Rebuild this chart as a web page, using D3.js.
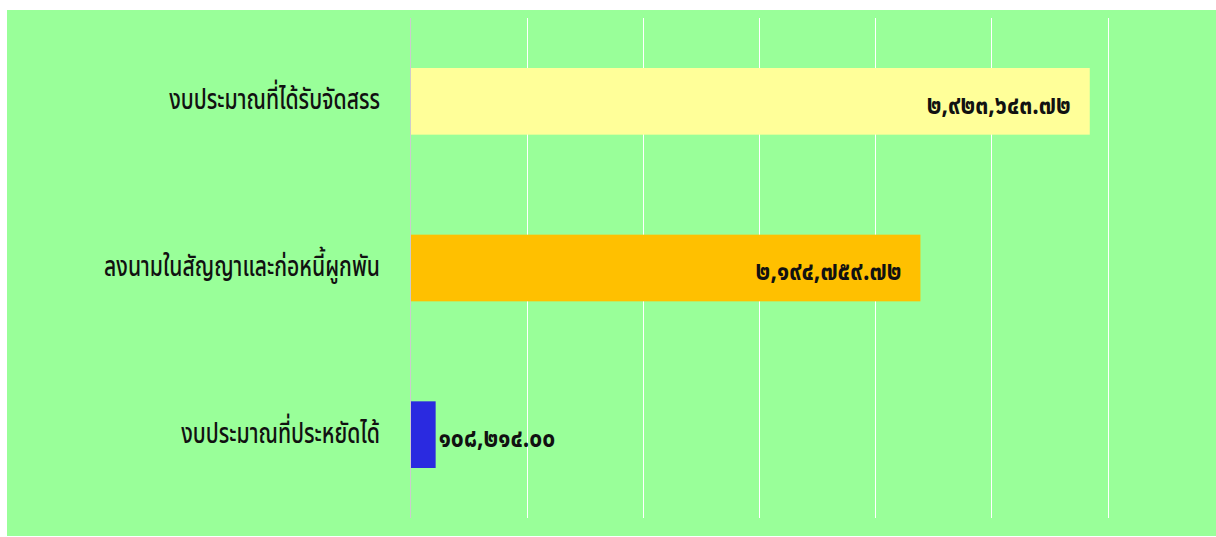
<!DOCTYPE html>
<html><head><meta charset="utf-8">
<script src="https://cdn.jsdelivr.net/npm/d3@7"></script>
<style>
html,body{margin:0;padding:0;background:#fff;}
svg{display:block;}
</style></head>
<body>
<svg id="chart" width="1216" height="537"></svg>
<script>
const categories = ["งบประมาณที่ได้รับจัดสรร", "ลงนามในสัญญาและก่อหนี้ผูกพัน", "งบประมาณที่ประหยัดได้"];
const values = [2923643.72, 2194759.72, 108214.00];
const valueLabels = ["๒,๙๒๓,๖๔๓.๗๒", "๒,๑๙๔,๗๕๙.๗๒", "๑๐๘,๒๑๔.๐๐"];
const barColors = ["#FFFF99", "#FFC000", "#2A2AE0"];
const tickValues = [0, 500000, 1000000, 1500000, 2000000, 2500000, 3000000];

const svg = d3.select("#chart");
svg.append("rect").attr("x", 7).attr("y", 10).attr("width", 1209).attr("height", 526).attr("fill", "#99FF99");

const x = d3.scaleLinear().domain([0, 3000000]).range([410.5, 1107.5]);
const y = d3.scaleBand().domain(categories).range([18, 518]).paddingInner(0.6).paddingOuter(0.3);

const g = svg.append("g");
g.selectAll("line.grid").data(tickValues.slice(1)).join("line")
  .attr("class", "grid")
  .attr("x1", d => Math.round(x(d)) + 0.5).attr("x2", d => Math.round(x(d)) + 0.5)
  .attr("y1", 18).attr("y2", 518)
  .attr("stroke", "#ffffff").attr("stroke-width", 1);

g.selectAll("rect.bar").data(values).join("rect")
  .attr("class", "bar")
  .attr("x", x(0))
  .attr("y", (d, i) => y(categories[i]))
  .attr("width", d => x(d) - x(0))
  .attr("height", y.bandwidth())
  .attr("fill", (d, i) => barColors[i]);

g.append("line").attr("x1", 410.5).attr("x2", 410.5).attr("y1", 18).attr("y2", 518)
  .attr("stroke", "#cccccc").attr("stroke-width", 1);

const font = "'Noto Sans Thai','Tahoma','Noto Sans','DejaVu Sans',sans-serif";
const sx = 0.73;
g.selectAll("text.cat").data(categories).join("text")
  .attr("class", "cat")
  .attr("transform", d => `translate(380,${y(d) + y.bandwidth() / 2 - 2}) scale(${sx},1)`)
  .attr("dy", "0.35em")
  .attr("text-anchor", "end")
  .attr("font-family", font)
  .attr("font-size", 29)
  .attr("font-weight", 500)
  .attr("fill", "#111")
  .text(d => d);

const vx = 0.85;
g.selectAll("text.val").data(values).join("text")
  .attr("class", "val")
  .attr("transform", (d, i) => `translate(${i < 2 ? x(d) - 19 : x(d) + 3},${y(categories[i]) + y.bandwidth() / 2 + 3}) scale(${vx},1)`)
  .attr("dy", "0.35em")
  .attr("text-anchor", (d, i) => i < 2 ? "end" : "start")
  .attr("font-family", font)
  .attr("font-size", 27)
  .attr("font-weight", "bold")
  .attr("fill", "#111")
  .text((d, i) => valueLabels[i]);
</script>
</body></html>
